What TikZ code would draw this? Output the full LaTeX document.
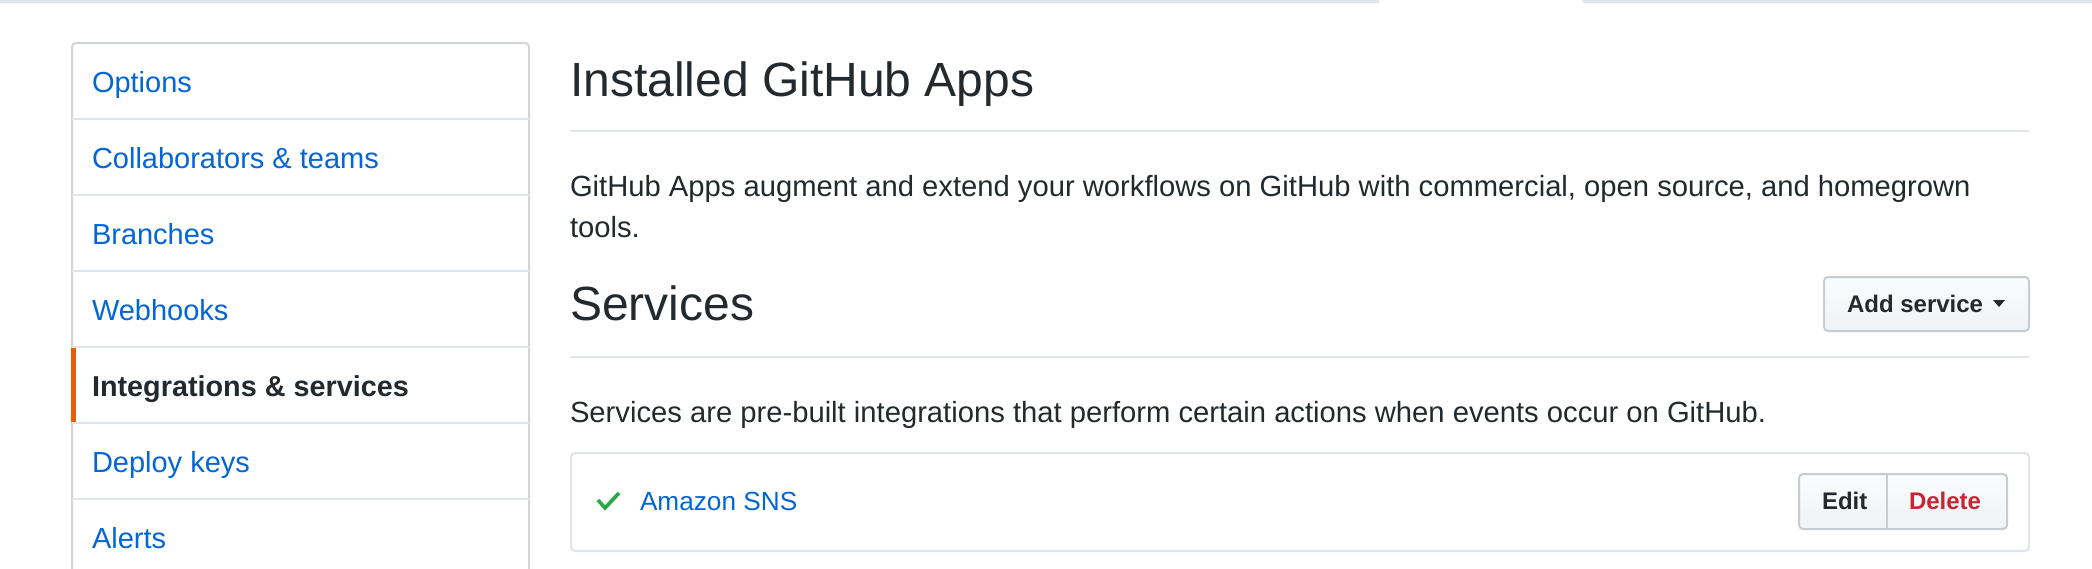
\documentclass[tikz,border=0pt]{standalone}
\usepackage{fontspec}
\setmainfont{Liberation Sans}
\definecolor{ghblue}{HTML}{0366D6}
\definecolor{ghtext}{HTML}{24292E}
\definecolor{ghborder}{HTML}{D1D5DA}
\definecolor{ghsep}{HTML}{E1E4E8}
\definecolor{ghorange}{HTML}{E36209}
\definecolor{ghgreen}{HTML}{28A745}
\definecolor{ghred}{HTML}{CB2431}
\definecolor{btntop}{HTML}{FAFBFC}
\definecolor{btnbot}{HTML}{EFF3F6}
\definecolor{btnborder}{HTML}{C9CCCF}
\begin{document}
\begin{tikzpicture}[x=0.5pt,y=-0.5pt,
  txt/.style={anchor=base west,inner sep=0pt,outer sep=0pt},
  body/.style={txt,font=\fontsize{14.6}{17}\selectfont,text=ghtext},
  link/.style={txt,font=\fontsize{14.5}{17}\selectfont,text=ghblue},
  head/.style={txt,font=\fontsize{24}{28}\selectfont,text=ghtext},
  boldtxt/.style={txt,font=\fontsize{14.4}{17}\selectfont\bfseries,text=ghtext},
  btntxt/.style={txt,font=\fontsize{12}{14}\selectfont\bfseries,text=ghtext},
  sepline/.style={draw=ghsep,line width=1pt},
  btn/.style={draw=btnborder,line width=1pt,rounded corners=2pt,top color=btntop,bottom color=btnbot}
]
\useasboundingbox[fill=white] (0,0) rectangle (2092,568);
\clip (0,0) rectangle (2092,568);
% top bar
\draw[ghsep,line width=1.5pt] (0,1.5) -- (1379,1.5);
\draw[ghsep,line width=1.5pt] (1583,1.5) -- (2092,1.5);
% sidebar
\draw[ghborder,line width=1pt,rounded corners=2pt] (72,600) -- (72,43) -- (529,43) -- (529,600);
\foreach \yy in {119,195,271,347,423,499} \draw[sepline] (72,\yy) -- (529,\yy);
\fill[ghorange] (71,348) rectangle (76,422);
\node[link] (opt) at (92,92) {Options};
\node[link] (col) at (92,168) {Collaborators \& teams};
\node[link] (bra) at (92,244) {Branches};
\node[link] (web) at (92,320) {Webhooks};
\node[boldtxt] (int) at (92,396) {Integrations \& services};
\node[link] (dep) at (92,472) {Deploy keys};
\node[link] (ale) at (92,548) {Alerts};
% main
\node[head] (h1) at (570,96) {Installed GitHub Apps};
\draw[sepline] (570,131) -- (2029,131);
\node[body] (p1) at (570,196) {GitHub Apps augment and extend your workflows on GitHub with commercial, open source, and homegrown};
\node[body] (p2) at (570,237) {tools.};
\node[head] (h2) at (570,320) {Services};
\draw[btn] (1824,277) rectangle (2029,331);
\node[btntxt] (add) at (1847,312) {Add service};
\fill[ghtext] (1993,300) -- (2005,300) -- (1999,307) -- cycle;
\draw[sepline] (570,357) -- (2029,357);
\node[body] (p3) at (570,422) {Services are pre-built integrations that perform certain actions when events occur on GitHub.};
\draw[sepline,rounded corners=2pt] (571,453) rectangle (2029,551);
\draw[ghgreen,line width=1.8pt] (598,500) -- (605,508) -- (619,493);
\node[link,font=\fontsize{13.1}{15}\selectfont] (sns) at (640,510) {Amazon SNS};
\draw[btn] (1799,474) rectangle (2007,529);
\draw[btnborder,line width=1pt] (1887,474) -- (1887,529);
\node[btntxt] (edit) at (1822,509) {Edit};
\node[btntxt,text=ghred] (del) at (1909,509) {Delete};
\end{tikzpicture}
\end{document}
